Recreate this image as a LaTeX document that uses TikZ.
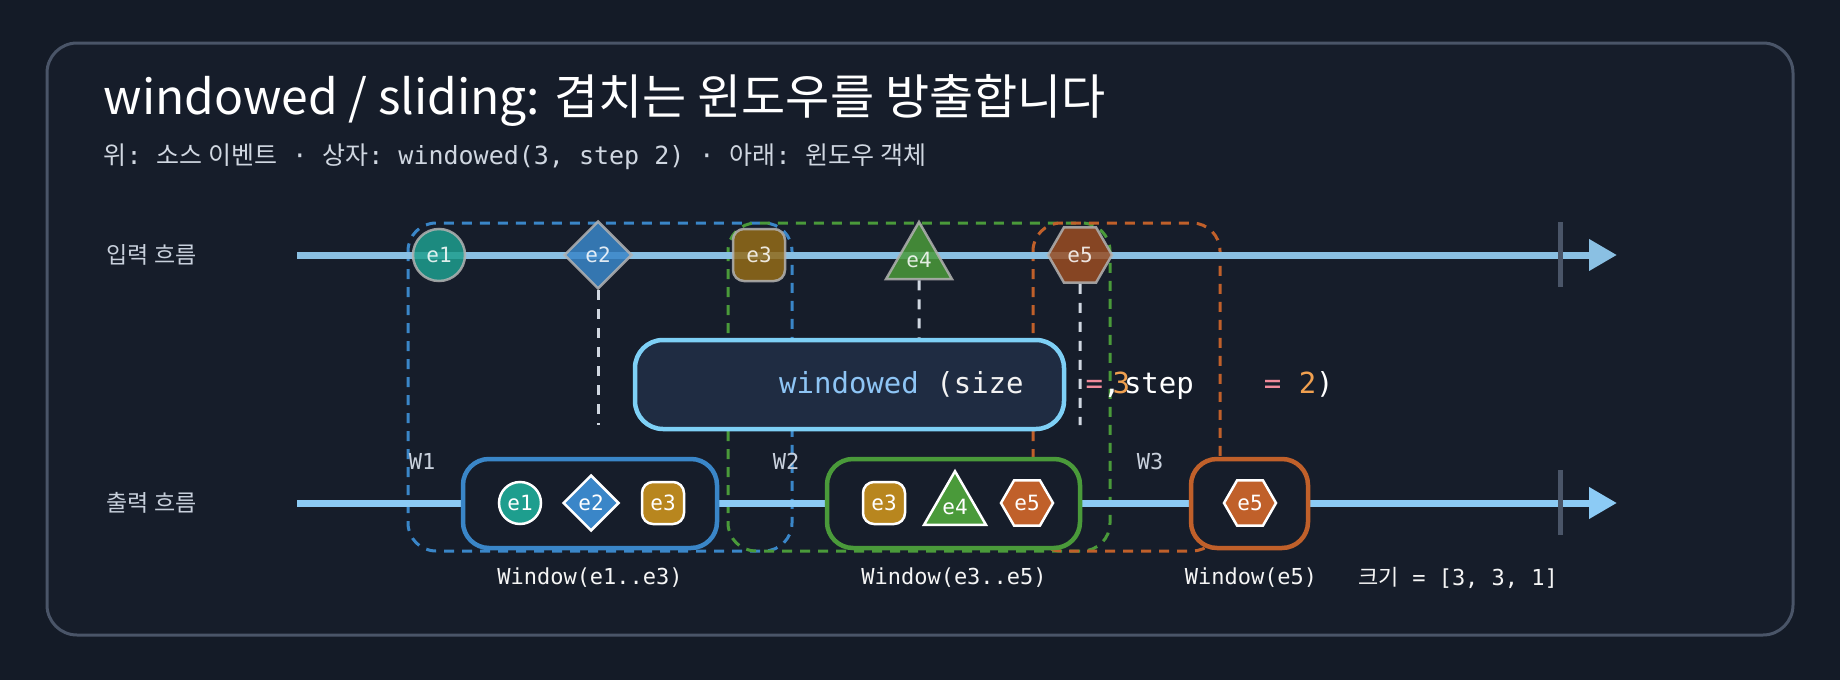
\documentclass[tikz,border=0pt]{standalone}
\usepackage{fontspec}
\setmainfont{Noto Sans CJK KR}
\setmonofont{DejaVu Sans Mono}
\newfontfamily\cjk{Noto Sans CJK KR}
\usetikzlibrary{shapes.geometric,arrows.meta,shadings}
\definecolor{bg}{HTML}{141B27}
\definecolor{panel}{HTML}{161D2A}
\definecolor{codefill}{HTML}{1F2C42}
\definecolor{frame}{HTML}{4A5568}
\definecolor{stream}{HTML}{8CCBF5}
\definecolor{cteal}{HTML}{1E9E8E}
\definecolor{cblue}{HTML}{3A86C8}
\definecolor{cgold}{HTML}{B8861E}
\definecolor{cgreen}{HTML}{4A9A3A}
\definecolor{corange}{HTML}{C0602A}
\definecolor{txt}{HTML}{C8D0DC}
\definecolor{codeblue}{HTML}{8EC5F5}
\definecolor{pinkop}{HTML}{F08A9A}
\definecolor{numor}{HTML}{F0A050}
\begin{document}
\begin{tikzpicture}[x=1pt,y=-1pt,
  ev/.style={draw=#1!40!white,line width=2.5pt,text=white,font=\ttfamily\fontsize{21}{21}\selectfont,inner sep=0pt,fill=#1},
  inev/.style={opacity=.85},
  circ/.style={circle,minimum size=52pt},
  dia/.style={diamond,minimum size=68pt},
  sq/.style={rounded corners=11pt,minimum size=52pt},
  tri/.style={regular polygon,regular polygon sides=3,minimum size=76pt},
  hexa/.style={regular polygon,regular polygon sides=6,minimum size=64pt,shape border rotate=0},
  win/.style={dashed,dash pattern=on 10pt off 8pt,line width=3pt,rounded corners=28pt},
  obox/.style={line width=4.5pt,rounded corners=26pt,fill=panel},
  lab/.style={text=txt,font=\cjk\fontsize{23}{23}\selectfont},
  mono/.style={text=white!92!gray,font=\ttfamily\fontsize{22}{22}\selectfont},
  drop/.style={dashed,dash pattern=on 10pt off 9pt,line width=3pt,draw=txt!85}]
\fill[bg] (0,0) rectangle (1840,680);
\useasboundingbox (0,0) rectangle (1840,680);
\draw[frame,line width=3pt,fill=panel,rounded corners=30pt] (47,43) rectangle (1793,635);
\node[anchor=west,text=white,font=\fontsize{48}{48}\selectfont] (title) at (100,100) {windowed / sliding: 겹치는 윈도우를 방출합니다};
\node[anchor=west,text=txt!85,font=\fontsize{25}{25}\selectfont] (sub) at (100,157)
 {위{\ttfamily: }소스 이벤트{\ttfamily\ · }상자{\ttfamily: windowed(3, step 2) · }아래{\ttfamily: }윈도우 객체};
\node[lab,anchor=west] (inl) at (103,255) {입력 흐름};
\node[lab,anchor=west] (outl) at (103,503) {출력 흐름};
% windows
\draw[win,draw=cblue] (408,223) rectangle (792,551);
\draw[win,draw=cgreen] (728,223) rectangle (1110,551);
\draw[win,draw=corange] (1033,223) rectangle (1220,551);
% streams
\coordinate (is) at (297,255); \coordinate (ie) at (1617,255);
\coordinate (os) at (297,503); \coordinate (oe) at (1617,503);
\draw[stream!85!gray,line width=7pt,-{Triangle[length=28pt,width=30pt]}] (is) -- (ie);
\draw[stream,line width=7pt,-{Triangle[length=28pt,width=30pt]}] (os) -- (oe);
\draw[frame,line width=5pt] (1560,222) -- (1560,287);
\draw[frame,line width=5pt] (1560,470) -- (1560,535);
% input events
\node[ev=cteal,circ,inev,draw=gray!60] (i1) at (439,255) {e1};
\node[ev=cblue,dia,inev,draw=gray!60] (i2) at (598,255) {e2};
\node[ev=cgold!80!black,sq,inev,draw=gray!60] (i3) at (759,255) {e3};
\node[ev=cgreen,tri,inev,draw=gray!60] (i4) at (919,260) {e4};
\node[ev=corange!80!black,hexa,inev,draw=gray!60] (i5) at (1080,255) {e5};
\coordinate (d2) at (598,425);
\coordinate (d4) at (919,340);
\coordinate (d5) at (1080,425);
\draw[drop] (i2.south) -- (d2);
\draw[drop] (i4.south) -- (d4);
\draw[drop] (i5.south) -- (d5);
% code box
\node[draw=stream!90!cyan,line width=4.5pt,fill=codefill,rounded corners=28pt,minimum width=429pt,minimum height=89pt] (code) at (849.5,384.5) {};
\node[anchor=west,font=\ttfamily\fontsize{29}{29}\selectfont,inner sep=0pt] (ct) at (779,385)
 {\textcolor{codeblue}{windowed} \textcolor{white!90!gray}{(size}\hspace{62pt}\textcolor{pinkop}{=}\textcolor{white}{,}\kern-8pt\textcolor{numor}{3}\kern-6pt\textcolor{white}{step}\hspace{70pt}\textcolor{pinkop}{=} \textcolor{numor}{2}\textcolor{white}{)}};
% window labels
\node[mono,text=txt] (w1) at (422,461) {W1};
\node[mono,text=txt] (w2) at (786,461) {W2};
\node[mono,text=txt] (w3) at (1150,461) {W3};
% output boxes
\draw[obox,draw=cblue] (463,459) rectangle (717,548);
\draw[obox,draw=cgreen] (827,459) rectangle (1080,548);
\draw[obox,draw=corange] (1191,459) rectangle (1308,548);
\node[ev=cteal,circ,draw=white,minimum size=42pt] (o1) at (520,503) {e1};
\node[ev=cblue,dia,draw=white,minimum size=56pt] (o2) at (591,503) {e2};
\node[ev=cgold,sq,draw=white,minimum size=42pt] (o3) at (663,503) {e3};
\node[ev=cgold,sq,draw=white,minimum size=42pt] (o4) at (884,503) {e3};
\node[ev=cgreen,tri,draw=white,minimum size=60pt] (o5) at (955,507) {e4};
\node[ev=corange,hexa,draw=white,minimum size=52pt] (o6) at (1027,503) {e5};
\node[ev=corange,hexa,draw=white,minimum size=52pt] (o7) at (1250,503) {e5};
% captions
\node[mono] (c1) at (590,578) {Window(e1..e3)};
\node[mono] (c2) at (954,578) {Window(e3..e5)};
\node[mono] (c3) at (1251,578) {Window(e5)};
\node[mono,anchor=west] (c4) at (1355,578) {{\cjk 크기} = [3, 3, 1]};
\end{tikzpicture}
\end{document}
